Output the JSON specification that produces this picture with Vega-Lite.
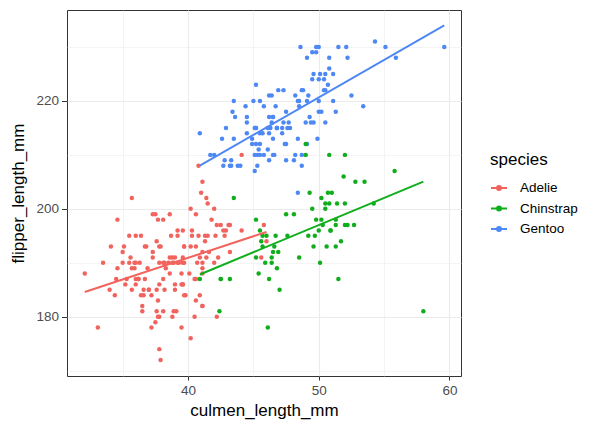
{
"$schema": "https://vega.github.io/schema/vega-lite/v6.json",
"width": 394, "height": 366,
"autosize": "none",
"padding": {"left": 67, "top": 10, "right": 144, "bottom": 56},
"background": "white",
"config": {
  "font": "Liberation Sans",
  "view": {"stroke": "#333333", "strokeWidth": 1},
  "axis": {"labelFontSize": 13.5, "labelColor": "#4D4D4D", "titleFontSize": 17, "titleFontWeight": "normal", "titleColor": "black", "domain": false, "tickColor": "#333333", "gridColor": "#EBEBEB"},
  "legend": {"titleFontSize": 17, "titleFontWeight": "normal", "labelFontSize": 13.5, "labelColor": "black", "titleColor": "black"}
},
"data": {"values": [
{"species":"Adelie","culmen":39.1,"flipper":181},{"species":"Adelie","culmen":39.5,"flipper":186},{"species":"Adelie","culmen":40.3,"flipper":195},{"species":"Adelie","culmen":36.7,"flipper":193},{"species":"Adelie","culmen":39.3,"flipper":190},{"species":"Adelie","culmen":38.9,"flipper":181},{"species":"Adelie","culmen":39.2,"flipper":195},{"species":"Adelie","culmen":34.1,"flipper":193},{"species":"Adelie","culmen":42.0,"flipper":190},{"species":"Adelie","culmen":37.8,"flipper":186},{"species":"Adelie","culmen":37.8,"flipper":180},{"species":"Adelie","culmen":41.1,"flipper":182},{"species":"Adelie","culmen":38.6,"flipper":191},{"species":"Adelie","culmen":34.6,"flipper":198},{"species":"Adelie","culmen":36.6,"flipper":185},{"species":"Adelie","culmen":38.7,"flipper":195},{"species":"Adelie","culmen":42.5,"flipper":197},{"species":"Adelie","culmen":34.4,"flipper":184},{"species":"Adelie","culmen":46.0,"flipper":194},{"species":"Adelie","culmen":37.8,"flipper":174},{"species":"Adelie","culmen":37.7,"flipper":180},{"species":"Adelie","culmen":35.9,"flipper":189},{"species":"Adelie","culmen":38.2,"flipper":185},{"species":"Adelie","culmen":38.8,"flipper":180},{"species":"Adelie","culmen":35.3,"flipper":187},{"species":"Adelie","culmen":40.6,"flipper":183},{"species":"Adelie","culmen":40.5,"flipper":187},{"species":"Adelie","culmen":37.9,"flipper":172},{"species":"Adelie","culmen":40.5,"flipper":180},{"species":"Adelie","culmen":39.5,"flipper":178},{"species":"Adelie","culmen":37.2,"flipper":178},{"species":"Adelie","culmen":39.5,"flipper":188},{"species":"Adelie","culmen":40.9,"flipper":184},{"species":"Adelie","culmen":36.4,"flipper":195},{"species":"Adelie","culmen":39.2,"flipper":196},{"species":"Adelie","culmen":38.8,"flipper":190},{"species":"Adelie","culmen":42.2,"flipper":180},{"species":"Adelie","culmen":37.6,"flipper":181},{"species":"Adelie","culmen":39.8,"flipper":184},{"species":"Adelie","culmen":36.5,"flipper":182},{"species":"Adelie","culmen":40.8,"flipper":195},{"species":"Adelie","culmen":36.0,"flipper":186},{"species":"Adelie","culmen":44.1,"flipper":196},{"species":"Adelie","culmen":37.0,"flipper":185},{"species":"Adelie","culmen":39.6,"flipper":190},{"species":"Adelie","culmen":41.1,"flipper":182},{"species":"Adelie","culmen":37.5,"flipper":179},{"species":"Adelie","culmen":36.0,"flipper":190},{"species":"Adelie","culmen":42.3,"flipper":191},{"species":"Adelie","culmen":39.6,"flipper":186},{"species":"Adelie","culmen":40.1,"flipper":188},{"species":"Adelie","culmen":35.0,"flipper":190},{"species":"Adelie","culmen":42.0,"flipper":200},{"species":"Adelie","culmen":34.5,"flipper":187},{"species":"Adelie","culmen":41.4,"flipper":191},{"species":"Adelie","culmen":39.0,"flipper":186},{"species":"Adelie","culmen":40.6,"flipper":193},{"species":"Adelie","culmen":36.5,"flipper":181},{"species":"Adelie","culmen":37.6,"flipper":194},{"species":"Adelie","culmen":35.7,"flipper":185},{"species":"Adelie","culmen":41.3,"flipper":195},{"species":"Adelie","culmen":37.6,"flipper":185},{"species":"Adelie","culmen":41.1,"flipper":192},{"species":"Adelie","culmen":36.4,"flipper":184},{"species":"Adelie","culmen":41.6,"flipper":192},{"species":"Adelie","culmen":35.5,"flipper":195},{"species":"Adelie","culmen":41.1,"flipper":188},{"species":"Adelie","culmen":35.9,"flipper":190},{"species":"Adelie","culmen":41.8,"flipper":198},{"species":"Adelie","culmen":33.5,"flipper":190},{"species":"Adelie","culmen":39.7,"flipper":190},{"species":"Adelie","culmen":39.6,"flipper":196},{"species":"Adelie","culmen":45.8,"flipper":197},{"species":"Adelie","culmen":35.5,"flipper":190},{"species":"Adelie","culmen":42.8,"flipper":195},{"species":"Adelie","culmen":40.9,"flipper":191},{"species":"Adelie","culmen":37.2,"flipper":184},{"species":"Adelie","culmen":36.2,"flipper":187},{"species":"Adelie","culmen":42.1,"flipper":195},{"species":"Adelie","culmen":34.6,"flipper":189},{"species":"Adelie","culmen":42.9,"flipper":196},{"species":"Adelie","culmen":36.7,"flipper":187},{"species":"Adelie","culmen":35.1,"flipper":193},{"species":"Adelie","culmen":37.3,"flipper":191},{"species":"Adelie","culmen":41.3,"flipper":194},{"species":"Adelie","culmen":36.3,"flipper":190},{"species":"Adelie","culmen":36.9,"flipper":189},{"species":"Adelie","culmen":38.3,"flipper":189},{"species":"Adelie","culmen":38.9,"flipper":190},{"species":"Adelie","culmen":35.7,"flipper":202},{"species":"Adelie","culmen":41.1,"flipper":205},{"species":"Adelie","culmen":34.0,"flipper":185},{"species":"Adelie","culmen":39.6,"flipper":186},{"species":"Adelie","culmen":36.2,"flipper":187},{"species":"Adelie","culmen":40.8,"flipper":208},{"species":"Adelie","culmen":38.1,"flipper":190},{"species":"Adelie","culmen":40.3,"flipper":196},{"species":"Adelie","culmen":33.1,"flipper":178},{"species":"Adelie","culmen":43.2,"flipper":192},{"species":"Adelie","culmen":35.0,"flipper":192},{"species":"Adelie","culmen":41.0,"flipper":203},{"species":"Adelie","culmen":37.7,"flipper":183},{"species":"Adelie","culmen":37.8,"flipper":190},{"species":"Adelie","culmen":37.9,"flipper":193},{"species":"Adelie","culmen":39.7,"flipper":184},{"species":"Adelie","culmen":38.6,"flipper":199},{"species":"Adelie","culmen":38.2,"flipper":190},{"species":"Adelie","culmen":38.1,"flipper":181},{"species":"Adelie","culmen":43.2,"flipper":197},{"species":"Adelie","culmen":38.1,"flipper":198},{"species":"Adelie","culmen":45.6,"flipper":191},{"species":"Adelie","culmen":39.7,"flipper":193},{"species":"Adelie","culmen":42.2,"flipper":197},{"species":"Adelie","culmen":39.6,"flipper":191},{"species":"Adelie","culmen":42.7,"flipper":196},{"species":"Adelie","culmen":38.6,"flipper":188},{"species":"Adelie","culmen":37.3,"flipper":199},{"species":"Adelie","culmen":35.7,"flipper":189},{"species":"Adelie","culmen":41.1,"flipper":189},{"species":"Adelie","culmen":36.2,"flipper":187},{"species":"Adelie","culmen":37.7,"flipper":198},{"species":"Adelie","culmen":40.2,"flipper":176},{"species":"Adelie","culmen":41.4,"flipper":202},{"species":"Adelie","culmen":35.2,"flipper":186},{"species":"Adelie","culmen":40.6,"flipper":199},{"species":"Adelie","culmen":38.8,"flipper":191},{"species":"Adelie","culmen":41.5,"flipper":195},{"species":"Adelie","culmen":39.0,"flipper":191},{"species":"Adelie","culmen":44.1,"flipper":210},{"species":"Adelie","culmen":38.5,"flipper":190},{"species":"Adelie","culmen":43.1,"flipper":197},{"species":"Adelie","culmen":36.8,"flipper":193},{"species":"Adelie","culmen":37.5,"flipper":199},{"species":"Adelie","culmen":38.1,"flipper":187},{"species":"Adelie","culmen":41.1,"flipper":190},{"species":"Adelie","culmen":35.6,"flipper":191},{"species":"Adelie","culmen":40.2,"flipper":200},{"species":"Adelie","culmen":37.0,"flipper":185},{"species":"Adelie","culmen":39.7,"flipper":193},{"species":"Adelie","culmen":40.2,"flipper":193},{"species":"Adelie","culmen":40.6,"flipper":187},{"species":"Adelie","culmen":32.1,"flipper":188},{"species":"Adelie","culmen":40.7,"flipper":190},{"species":"Adelie","culmen":37.3,"flipper":192},{"species":"Adelie","culmen":39.0,"flipper":185},{"species":"Adelie","culmen":39.2,"flipper":190},{"species":"Adelie","culmen":36.6,"flipper":184},{"species":"Adelie","culmen":36.0,"flipper":195},{"species":"Adelie","culmen":37.8,"flipper":193},{"species":"Adelie","culmen":36.0,"flipper":187},{"species":"Adelie","culmen":41.5,"flipper":201},
{"species":"Gentoo","culmen":46.1,"flipper":211},{"species":"Gentoo","culmen":50.0,"flipper":230},{"species":"Gentoo","culmen":48.7,"flipper":210},{"species":"Gentoo","culmen":50.0,"flipper":218},{"species":"Gentoo","culmen":47.6,"flipper":215},{"species":"Gentoo","culmen":46.5,"flipper":210},{"species":"Gentoo","culmen":45.4,"flipper":211},{"species":"Gentoo","culmen":46.7,"flipper":219},{"species":"Gentoo","culmen":43.3,"flipper":209},{"species":"Gentoo","culmen":46.8,"flipper":215},{"species":"Gentoo","culmen":40.9,"flipper":214},{"species":"Gentoo","culmen":49.0,"flipper":216},{"species":"Gentoo","culmen":45.5,"flipper":214},{"species":"Gentoo","culmen":48.4,"flipper":213},{"species":"Gentoo","culmen":45.8,"flipper":210},{"species":"Gentoo","culmen":49.3,"flipper":217},{"species":"Gentoo","culmen":42.0,"flipper":210},{"species":"Gentoo","culmen":49.2,"flipper":221},{"species":"Gentoo","culmen":46.2,"flipper":209},{"species":"Gentoo","culmen":48.7,"flipper":222},{"species":"Gentoo","culmen":50.2,"flipper":218},{"species":"Gentoo","culmen":45.1,"flipper":215},{"species":"Gentoo","culmen":46.5,"flipper":213},{"species":"Gentoo","culmen":46.3,"flipper":215},{"species":"Gentoo","culmen":42.9,"flipper":215},{"species":"Gentoo","culmen":46.1,"flipper":215},{"species":"Gentoo","culmen":44.5,"flipper":216},{"species":"Gentoo","culmen":47.8,"flipper":215},{"species":"Gentoo","culmen":48.2,"flipper":210},{"species":"Gentoo","culmen":50.0,"flipper":220},{"species":"Gentoo","culmen":47.3,"flipper":222},{"species":"Gentoo","culmen":42.8,"flipper":209},{"species":"Gentoo","culmen":45.1,"flipper":207},{"species":"Gentoo","culmen":59.6,"flipper":230},{"species":"Gentoo","culmen":49.1,"flipper":220},{"species":"Gentoo","culmen":48.4,"flipper":220},{"species":"Gentoo","culmen":42.6,"flipper":213},{"species":"Gentoo","culmen":44.4,"flipper":219},{"species":"Gentoo","culmen":44.0,"flipper":208},{"species":"Gentoo","culmen":48.7,"flipper":208},{"species":"Gentoo","culmen":42.7,"flipper":208},{"species":"Gentoo","culmen":49.6,"flipper":225},{"species":"Gentoo","culmen":45.3,"flipper":210},{"species":"Gentoo","culmen":49.6,"flipper":216},{"species":"Gentoo","culmen":50.5,"flipper":222},{"species":"Gentoo","culmen":43.6,"flipper":217},{"species":"Gentoo","culmen":45.5,"flipper":210},{"species":"Gentoo","culmen":50.5,"flipper":225},{"species":"Gentoo","culmen":44.9,"flipper":213},{"species":"Gentoo","culmen":45.2,"flipper":215},{"species":"Gentoo","culmen":46.6,"flipper":210},{"species":"Gentoo","culmen":48.5,"flipper":220},{"species":"Gentoo","culmen":45.1,"flipper":210},{"species":"Gentoo","culmen":50.1,"flipper":225},{"species":"Gentoo","culmen":46.5,"flipper":217},{"species":"Gentoo","culmen":45.0,"flipper":220},{"species":"Gentoo","culmen":43.8,"flipper":208},{"species":"Gentoo","culmen":45.5,"flipper":220},{"species":"Gentoo","culmen":43.2,"flipper":208},{"species":"Gentoo","culmen":50.4,"flipper":224},{"species":"Gentoo","culmen":45.3,"flipper":208},{"species":"Gentoo","culmen":46.2,"flipper":221},{"species":"Gentoo","culmen":45.7,"flipper":214},{"species":"Gentoo","culmen":54.3,"flipper":231},{"species":"Gentoo","culmen":45.8,"flipper":219},{"species":"Gentoo","culmen":49.8,"flipper":230},{"species":"Gentoo","culmen":46.2,"flipper":214},{"species":"Gentoo","culmen":49.5,"flipper":229},{"species":"Gentoo","culmen":43.5,"flipper":220},{"species":"Gentoo","culmen":50.7,"flipper":223},{"species":"Gentoo","culmen":47.7,"flipper":216},{"species":"Gentoo","culmen":46.4,"flipper":221},{"species":"Gentoo","culmen":48.2,"flipper":221},{"species":"Gentoo","culmen":46.5,"flipper":217},{"species":"Gentoo","culmen":46.4,"flipper":216},{"species":"Gentoo","culmen":48.6,"flipper":230},{"species":"Gentoo","culmen":47.5,"flipper":209},{"species":"Gentoo","culmen":51.1,"flipper":220},{"species":"Gentoo","culmen":45.2,"flipper":215},{"species":"Gentoo","culmen":45.2,"flipper":223},{"species":"Gentoo","culmen":49.1,"flipper":212},{"species":"Gentoo","culmen":52.5,"flipper":221},{"species":"Gentoo","culmen":47.4,"flipper":212},{"species":"Gentoo","culmen":50.0,"flipper":224},{"species":"Gentoo","culmen":44.9,"flipper":212},{"species":"Gentoo","culmen":50.8,"flipper":228},{"species":"Gentoo","culmen":43.4,"flipper":218},{"species":"Gentoo","culmen":51.3,"flipper":218},{"species":"Gentoo","culmen":47.5,"flipper":212},{"species":"Gentoo","culmen":52.1,"flipper":230},{"species":"Gentoo","culmen":47.5,"flipper":218},{"species":"Gentoo","culmen":52.2,"flipper":228},{"species":"Gentoo","culmen":45.5,"flipper":212},{"species":"Gentoo","culmen":49.5,"flipper":224},{"species":"Gentoo","culmen":44.5,"flipper":214},{"species":"Gentoo","culmen":50.8,"flipper":226},{"species":"Gentoo","culmen":49.4,"flipper":216},{"species":"Gentoo","culmen":46.9,"flipper":222},{"species":"Gentoo","culmen":48.4,"flipper":203},{"species":"Gentoo","culmen":51.1,"flipper":225},{"species":"Gentoo","culmen":48.5,"flipper":219},{"species":"Gentoo","culmen":55.9,"flipper":228},{"species":"Gentoo","culmen":47.2,"flipper":215},{"species":"Gentoo","culmen":49.1,"flipper":228},{"species":"Gentoo","culmen":47.3,"flipper":216},{"species":"Gentoo","culmen":46.8,"flipper":215},{"species":"Gentoo","culmen":41.7,"flipper":210},{"species":"Gentoo","culmen":53.4,"flipper":219},{"species":"Gentoo","culmen":43.3,"flipper":208},{"species":"Gentoo","culmen":48.1,"flipper":209},{"species":"Gentoo","culmen":50.5,"flipper":216},{"species":"Gentoo","culmen":49.8,"flipper":229},{"species":"Gentoo","culmen":43.5,"flipper":213},{"species":"Gentoo","culmen":51.5,"flipper":230},{"species":"Gentoo","culmen":46.2,"flipper":217},{"species":"Gentoo","culmen":55.1,"flipper":230},{"species":"Gentoo","culmen":44.5,"flipper":217},{"species":"Gentoo","culmen":48.8,"flipper":222},{"species":"Gentoo","culmen":47.2,"flipper":214},{"species":"Gentoo","culmen":46.8,"flipper":215},{"species":"Gentoo","culmen":50.4,"flipper":222},{"species":"Gentoo","culmen":45.2,"flipper":212},{"species":"Gentoo","culmen":49.9,"flipper":213},
{"species":"Chinstrap","culmen":46.5,"flipper":192},{"species":"Chinstrap","culmen":50.0,"flipper":196},{"species":"Chinstrap","culmen":51.3,"flipper":193},{"species":"Chinstrap","culmen":45.4,"flipper":188},{"species":"Chinstrap","culmen":52.7,"flipper":197},{"species":"Chinstrap","culmen":45.2,"flipper":198},{"species":"Chinstrap","culmen":46.1,"flipper":178},{"species":"Chinstrap","culmen":51.3,"flipper":197},{"species":"Chinstrap","culmen":46.0,"flipper":195},{"species":"Chinstrap","culmen":51.3,"flipper":198},{"species":"Chinstrap","culmen":46.6,"flipper":193},{"species":"Chinstrap","culmen":51.7,"flipper":194},{"species":"Chinstrap","culmen":47.0,"flipper":185},{"species":"Chinstrap","culmen":52.0,"flipper":201},{"species":"Chinstrap","culmen":45.9,"flipper":190},{"species":"Chinstrap","culmen":50.5,"flipper":201},{"species":"Chinstrap","culmen":50.3,"flipper":197},{"species":"Chinstrap","culmen":58.0,"flipper":181},{"species":"Chinstrap","culmen":46.4,"flipper":190},{"species":"Chinstrap","culmen":49.2,"flipper":195},{"species":"Chinstrap","culmen":42.4,"flipper":181},{"species":"Chinstrap","culmen":48.5,"flipper":191},{"species":"Chinstrap","culmen":43.2,"flipper":187},{"species":"Chinstrap","culmen":50.6,"flipper":193},{"species":"Chinstrap","culmen":46.7,"flipper":195},{"species":"Chinstrap","culmen":52.0,"flipper":197},{"species":"Chinstrap","culmen":50.5,"flipper":200},{"species":"Chinstrap","culmen":49.5,"flipper":200},{"species":"Chinstrap","culmen":46.4,"flipper":191},{"species":"Chinstrap","culmen":52.8,"flipper":205},{"species":"Chinstrap","culmen":40.9,"flipper":187},{"species":"Chinstrap","culmen":54.2,"flipper":201},{"species":"Chinstrap","culmen":42.5,"flipper":187},{"species":"Chinstrap","culmen":51.0,"flipper":203},{"species":"Chinstrap","culmen":49.7,"flipper":195},{"species":"Chinstrap","culmen":47.5,"flipper":199},{"species":"Chinstrap","culmen":47.6,"flipper":195},{"species":"Chinstrap","culmen":52.0,"flipper":210},{"species":"Chinstrap","culmen":46.9,"flipper":192},{"species":"Chinstrap","culmen":53.5,"flipper":205},{"species":"Chinstrap","culmen":49.0,"flipper":210},{"species":"Chinstrap","culmen":46.2,"flipper":187},{"species":"Chinstrap","culmen":50.9,"flipper":196},{"species":"Chinstrap","culmen":45.5,"flipper":196},{"species":"Chinstrap","culmen":50.9,"flipper":196},{"species":"Chinstrap","culmen":50.8,"flipper":201},{"species":"Chinstrap","culmen":50.1,"flipper":190},{"species":"Chinstrap","culmen":49.0,"flipper":212},{"species":"Chinstrap","culmen":51.5,"flipper":187},{"species":"Chinstrap","culmen":49.8,"flipper":198},{"species":"Chinstrap","culmen":48.1,"flipper":199},{"species":"Chinstrap","culmen":51.4,"flipper":201},{"species":"Chinstrap","culmen":45.7,"flipper":193},{"species":"Chinstrap","culmen":50.7,"flipper":203},{"species":"Chinstrap","culmen":42.5,"flipper":187},{"species":"Chinstrap","culmen":52.2,"flipper":197},{"species":"Chinstrap","culmen":45.2,"flipper":191},{"species":"Chinstrap","culmen":49.3,"flipper":203},{"species":"Chinstrap","culmen":50.2,"flipper":202},{"species":"Chinstrap","culmen":45.6,"flipper":194},{"species":"Chinstrap","culmen":51.9,"flipper":206},{"species":"Chinstrap","culmen":46.8,"flipper":189},{"species":"Chinstrap","culmen":45.7,"flipper":195},{"species":"Chinstrap","culmen":55.8,"flipper":207},{"species":"Chinstrap","culmen":43.5,"flipper":202},{"species":"Chinstrap","culmen":49.6,"flipper":193},{"species":"Chinstrap","culmen":50.8,"flipper":210},{"species":"Chinstrap","culmen":50.2,"flipper":198}
]},
"encoding": {
  "x": {"field": "culmen", "type": "quantitative", "title": "culmen_length_mm",
    "scale": {"domain": [30.74, 60.88], "nice": false, "zero": false},
    "axis": {"values": [35, 40, 45, 50, 55, 60], "labelExpr": "datum.value % 10 === 0 ? datum.label : ''",
      "tickSize": 4, "labelPadding": 3, "titlePadding": 6,
      "tickOpacity": {"condition": {"test": "datum.value % 10 === 0", "value": 1}, "value": 0},
      "gridWidth": {"condition": {"test": "datum.value % 10 === 0", "value": 1.1}, "value": 0.55}}},
  "y": {"field": "flipper", "type": "quantitative", "title": "flipper_length_mm",
    "scale": {"domain": [169.02, 236.85], "nice": false, "zero": false},
    "axis": {"values": [170, 180, 190, 200, 210, 220, 230], "labelExpr": "datum.value % 20 === 0 ? datum.label : ''",
      "tickSize": 5.5, "labelPadding": 3, "titlePadding": 8,
      "tickOpacity": {"condition": {"test": "datum.value % 20 === 0", "value": 1}, "value": 0},
      "gridWidth": {"condition": {"test": "datum.value % 20 === 0", "value": 1.1}, "value": 0.55}}},
  "color": {"field": "species", "type": "nominal",
    "scale": {"domain": ["Adelie", "Chinstrap", "Gentoo"], "range": ["#F1635D", "#10AE1C", "#4E88F4"]},
    "legend": {"orient": "none", "legendX": 423, "legendY": 142, "titlePadding": 10,
      "symbolType": "M-1,0L1,0M0.25,0A0.25,0.25,0,1,1,-0.25,0A0.25,0.25,0,1,1,0.25,0Z",
      "symbolSize": 256, "symbolStrokeWidth": 2, "labelOffset": 12, "rowPadding": 4.5,
      "encode": {"symbols": {"update": {"fill": {"scale": "color", "field": "value"}, "stroke": {"scale": "color", "field": "value"}, "strokeWidth": {"value": 2}, "opacity": {"value": 1}}}}}}
},
"layer": [
  {"mark": {"type": "circle", "size": 20, "opacity": 1}},
  {"mark": {"type": "line", "strokeWidth": 2},
   "transform": [{"regression": "flipper", "on": "culmen", "groupby": ["species"]}]}
]
}
